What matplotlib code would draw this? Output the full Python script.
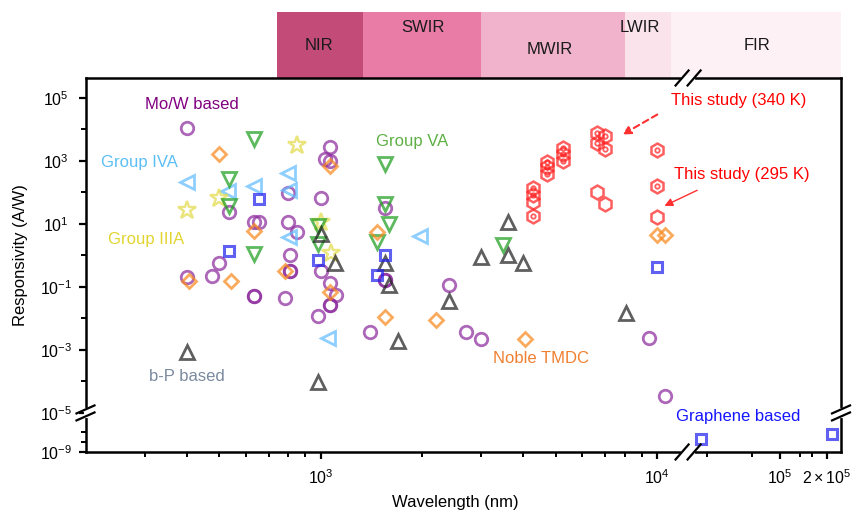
import numpy as np
import matplotlib
matplotlib.use("Agg")
import matplotlib.pyplot as plt
import matplotlib.transforms as mtransforms
from matplotlib.lines import Line2D
from matplotlib.patches import Rectangle

plt.rcParams['font.family'] = ['Liberation Sans', 'DejaVu Sans']
plt.rcParams['mathtext.fontset'] = 'custom'
plt.rcParams['mathtext.rm'] = 'Liberation Sans'
plt.rcParams['mathtext.it'] = 'Liberation Sans:italic'
plt.rcParams['mathtext.bf'] = 'Liberation Sans:bold'

# ---------------- data (wavelength nm, responsivity A/W) ----------------
mow_wl = [400, 1065, 1030, 1065, 800, 1000, 535, 635, 655, 800, 850, 813, 500, 475, 400,
          1000, 813, 813, 1065, 1110, 1065, 1065, 635, 635, 785, 985, 1550, 1550, 1550,
          2400, 1400, 2700, 3000, 9460, 10570]
mow_r = [1.1e4, 2800, 1150, 1000, 96, 67, 24, 11.5, 11.5, 11.5, 5.6, 1.04, 0.58, 0.22, 0.21,
         0.32, 0.32, 0.32, 0.134, 0.056, 0.027, 0.027, 0.052, 0.052, 0.043, 0.0118, 32, 0.17, 0.17,
         0.116, 0.0037, 0.0037, 0.0022, 0.0024, 3.5e-5]

iva_wl = [400, 530, 635, 800, 805, 805, 1055, 1980]
iva_r = [215, 112, 161, 407, 120, 3.95, 0.0024, 4.2]

iiia_wl = [850, 500, 400, 1000, 1070]
iiia_r = [3200, 67, 28, 11.6, 1.2]

va_wl = [635, 535, 535, 635, 985, 985, 1550, 1550, 1600, 1470, 3490]
va_r = [5000, 270, 38, 1.1, 8.6, 2.3, 800, 43, 10, 2.7, 2.15]

bp_wl = [400, 1000, 1100, 985, 1555, 1600, 2400, 1700, 3610, 3000, 3610, 4000, 8090]
bp_r = [8.6e-4, 4.8, 0.58, 9.6e-5, 0.58, 0.116, 0.036, 0.0019, 11.6, 0.9, 1.04, 0.58, 0.015]

noble_wl = [500, 1065, 635, 405, 540, 785, 1065, 1470, 1555, 2200, 4060, 10000, 10570]
noble_r = [1670, 700, 6.0, 0.155, 0.155, 0.32, 0.068, 5.6, 0.0112, 0.009, 0.0022, 4.5, 4.5]

graph_wl = [655, 535, 985, 1555, 1470, 10000, 31000, 215000]
graph_r = [62, 1.4, 0.72, 1.0, 0.24, 0.43, 2e-8, 7e-8]

s295_wl = [4285, 4285, 4285, 4285, 4720, 4720, 4720, 5265, 5265, 5265, 6640, 7010, 10000, 10000, 10000]
s295_r = [139, 83, 50, 18, 950, 645, 386, 2590, 1670, 1000, 104, 43, 2230, 161, 16.7]
s295_dot = [1, 1, 0, 1, 1, 1, 1, 1, 1, 1, 0, 0, 1, 1, 0]

s340_wl = [6640, 7010, 6640, 7010]
s340_r = [7740, 6220, 3730, 2400]
s340_dot = [1, 1, 1, 1]

band_names = ['NIR', 'SWIR', 'MWIR', 'LWIR', 'FIR']
band_start = [740, 1340, 3000, 8000, 11000]
band_end = [1340, 3000, 8000, 11000, 2.46e5]
band_colors = ['#C24B78', '#E87CA6', '#F1B3CC', '#FBE3EC', '#FEF1F5']
band_label_x = [990, 2010, 4780, 8890, 71300]
band_label_y = [1.0856, 1.134, 1.075, 1.134, 1.0856]

xticks_major = [1e3, 1e4, 1e5, 2e5]
xticklabels = [r'$\mathregular{10^3}$', r'$\mathregular{10^4}$', r'$\mathregular{10^5}$',
               r'$\mathregular{2\times10^5}$']
xticks_minor = [300, 400, 500, 600, 700, 800, 900, 2000, 3000, 4000, 5000, 6000, 7000, 8000,
                9000, 3.4e4, 6.6e4, 1.35e5, 1.6e5]
yticks_major = [1e5, 1e3, 1e1, 1e-1, 1e-3, 1e-5, 1e-9]
yticklabels = [r'$\mathregular{10^5}$', r'$\mathregular{10^3}$', r'$\mathregular{10^1}$',
               r'$\mathregular{10^{-1}}$', r'$\mathregular{10^{-3}}$', r'$\mathregular{10^{-5}}$',
               r'$\mathregular{10^{-9}}$']
yticks_minor = [1e4, 1e2, 1e0, 1e-2, 1e-4, 1e-7, 1e-8]

# ---------------- broken scales ----------------
XB1, XB2, XK, EPS = 12360.0, 25700.0, 0.463, 1e-3
YB, YK = -5.0, 0.31
_a, _b = np.log10(XB1), np.log10(XB2)
_c = _a + (_b - _a) * EPS


def x_fwd(x):
    u = np.log10(np.clip(np.asarray(x, float), 1e-300, None))
    return np.where(u <= _a, u, np.where(u <= _b, _a + (u - _a) * EPS, _c + (u - _b) * XK))


def x_inv(t):
    t = np.asarray(t, float)
    u = np.where(t <= _a, t, np.where(t <= _c, _a + (t - _a) / EPS, _b + (t - _c) / XK))
    return 10 ** np.clip(u, -300, 300)


def y_fwd(y):
    u = np.log10(np.clip(np.asarray(y, float), 1e-300, None))
    return np.where(u >= YB, u, YB + (u - YB) * YK)


def y_inv(t):
    t = np.asarray(t, float)
    u = np.where(t >= YB, t, YB + (t - YB) / YK)
    return 10 ** np.clip(u, -300, 300)


fig = plt.figure(figsize=(8.67, 5.15), dpi=100)
ax = fig.add_axes([85.5 / 867, 63 / 515, 755.5 / 867, 374 / 515])
ax.set_xscale('function', functions=(x_fwd, x_inv))
ax.set_yscale('function', functions=(y_fwd, y_inv))
ax.set_xlim(200, 2.46e5)
ax.set_ylim(1e-9, 4.3e5)

A = 0.72
common = dict(linestyle='none', mfc='none', alpha=A)
ax.plot(mow_wl, mow_r, marker='o', ms=9, mec='#8E2C9E', mew=2.0, **common)
ax.plot(iva_wl, iva_r, marker='<', ms=10, mec='#62BDFF', mew=2.0, **common)
ax.plot(iiia_wl, iiia_r, marker='*', ms=13.5, mec='#E3DA4A', mew=1.7, **common)
ax.plot(va_wl, va_r, marker='v', ms=10, mec='#1E9E1E', mew=2.0, **common)
ax.plot(bp_wl, bp_r, marker='^', ms=10, mec='#222222', mew=2.0, **common)
ax.plot(noble_wl, noble_r, marker='D', ms=7, mec='#F98A1E', mew=2.0, **common)
ax.plot(graph_wl, graph_r, marker='s', ms=7.5, mec='#2323EE', mew=2.2, **common)

for wl, r, dots in ((s295_wl, s295_r, s295_dot), (s340_wl, s340_r, s340_dot)):
    ax.plot(wl, r, marker='h', ms=10, mec='#FF2222', mew=1.8, **common)
    dw = [w for w, d in zip(wl, dots) if d]
    dr = [v for v, d in zip(r, dots) if d]
    ax.plot(dw, dr, marker='o', ms=3.2, mec='#FF2222', mew=1.3, **common)

# ---------------- ticks & spines ----------------
ax.set_xticks(xticks_major)
ax.set_xticklabels(xticklabels)
ax.set_xticks(xticks_minor, minor=True)
ax.set_yticks(yticks_major)
ax.set_yticklabels(yticklabels)
ax.set_yticks(yticks_minor, minor=True)
ax.tick_params(which='major', direction='out', length=5, width=1.6, labelsize=11.5)
ax.tick_params(which='minor', direction='out', length=3.5, width=1.4)
ax.tick_params(axis='x', which='major', pad=6.5)
ax.tick_params(axis='y', which='major', pad=16.5)
for lab in ax.get_yticklabels():
    lab.set_horizontalalignment('center')
for s in ax.spines.values():
    s.set_linewidth(1.8)
    s.set_color('black')
    s.set_zorder(5)

ax.set_xlabel('Wavelength (nm)', fontsize=12)
ax.set_ylabel('Responsivity (A/W)', fontsize=12)
ax.xaxis.set_label_coords(0.489, -0.115)
ax.yaxis.set_label_coords(-0.076, 0.527)

# ---------------- spectral bands ----------------
btr = mtransforms.blended_transform_factory(ax.transData, ax.transAxes)
for name, x0, x1, col, lx, ly in zip(band_names, band_start, band_end, band_colors,
                                     band_label_x, band_label_y):
    ax.add_patch(Rectangle((x0, 1.0), x1 - x0, 0.176, transform=btr, facecolor=col,
                           edgecolor='none', clip_on=False, zorder=1))
    ax.text(lx, ly, name, transform=btr, ha='center', va='center', fontsize=12,
            color='#1a1a1a', clip_on=False)

# ---------------- annotations ----------------
labels = [
    ('Mo/W based', 0.141, 0.930, '#800080'),
    ('Group IVA', 0.0708, 0.773, '#5BBEF5'),
    ('Group IIIA', 0.080, 0.567, '#E2D530'),
    ('Group VA', 0.432, 0.829, '#5DB044'),
    ('b-P based', 0.134, 0.203, '#7A8A9E'),
    ('Noble TMDC', 0.603, 0.251, '#F08030'),
    ('Graphene based', 0.864, 0.094, '#1515FF'),
    ('This study (340 K)', 0.865, 0.939, '#FF0000'),
    ('This study (295 K)', 0.869, 0.741, '#FF0000'),
]
for t, x, y, c in labels:
    ax.text(x, y, t, transform=ax.transAxes, ha='center', va='center', fontsize=12, color=c)

ax.annotate('', xy=(0.7075, 0.845), xytext=(0.760, 0.906), xycoords='axes fraction',
            arrowprops=dict(arrowstyle='-|>', color='#FF3030', lw=1.5, linestyle=(0, (3, 2)),
                            mutation_scale=12))
ax.annotate('', xy=(0.763, 0.655), xytext=(0.813, 0.703), xycoords='axes fraction',
            arrowprops=dict(arrowstyle='-|>', color='#FF3030', lw=1.0, mutation_scale=12))

# ---------------- break marks ----------------
idt = mtransforms.IdentityTransform()
bx = ax.transData.transform([[XB1, 1.0]])[0, 0]
ybot = ax.transAxes.transform([[0, 0]])[0, 1]
ytop = ax.transAxes.transform([[0, 1]])[0, 1]
for y0 in (ybot, ytop):
    fig.add_artist(Line2D([bx - 5, bx + 5], [y0, y0], color='white', lw=3, transform=idt, zorder=10))
    for off in (-6, 6):
        fig.add_artist(Line2D([bx + off - 6.5, bx + off + 6.5], [y0 - 7.5, y0 + 7.5], color='black',
                              lw=1.6, transform=idt, zorder=11))

yb = ax.transData.transform([[1000, 1e-5]])[0, 1]
xl = ax.transAxes.transform([[0, 0]])[0, 0]
xr = ax.transAxes.transform([[1, 0]])[0, 0]
for x0 in (xl, xr):
    fig.add_artist(Line2D([x0, x0], [yb - 3, yb + 3], color='white', lw=3, transform=idt, zorder=10))
    for off in (-3.5, 3.5):
        fig.add_artist(Line2D([x0 - 9, x0 + 9], [yb + off - 4, yb + off + 4], color='black',
                              lw=1.6, transform=idt, zorder=11))

fig.savefig('out.png', dpi=100)
